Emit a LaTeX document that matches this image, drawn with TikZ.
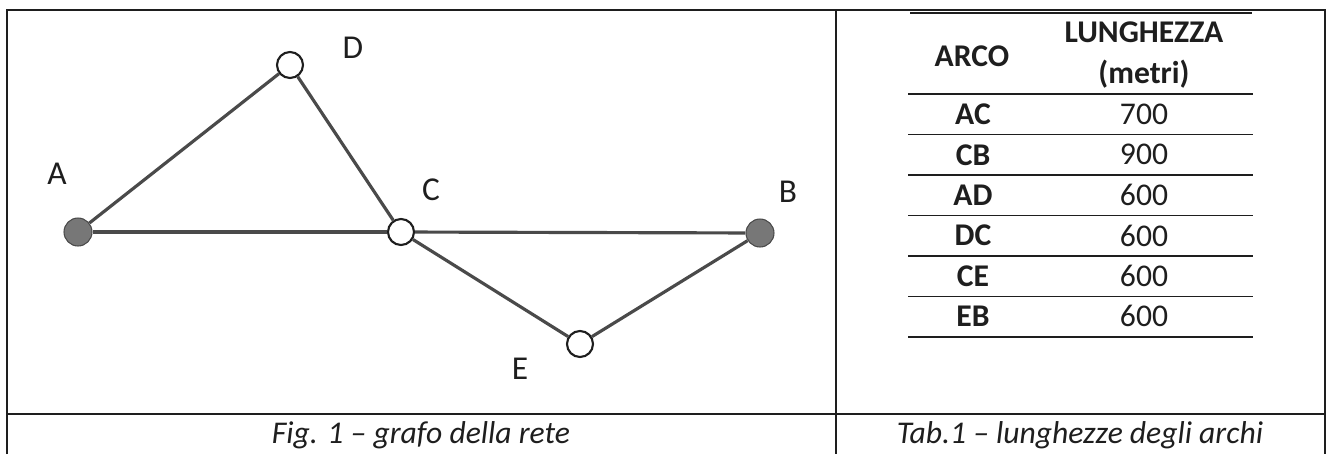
\documentclass[tikz,border=0pt]{standalone}
\usepackage{fontspec}
\setmainfont{Carlito}
\usetikzlibrary{positioning}
\definecolor{NetInk}{HTML}{1E1E1E}
\definecolor{NetEdge}{HTML}{4A4A4A}
\definecolor{NetFill}{HTML}{777777}

\begin{document}
\begin{tikzpicture}[x=0.02cm,y=-0.02cm,
          endpt/.style={draw=NetEdge,fill=NetFill,circle,
            minimum size=0.56cm,inner sep=0pt,line width=0.6pt},
          midpt/.style={draw=NetInk,fill=white,circle,
            minimum size=0.52cm,inner sep=0pt,line width=1.2pt},
          arcline/.style={draw=NetEdge,line width=1.8pt},
          lbl/.style={font=\fontsize{19}{22}\selectfont,text=NetInk},
          cell/.style={font=\fontsize{18}{21}\selectfont,text=NetInk},
          rule/.style={draw=NetInk,line width=0.9pt}
        ]
        \useasboundingbox (0,0) rectangle (1326,454);
        % frame
        \draw[NetInk,line width=1.1pt] (7,454) -- (7,10) -- (1325,10) -- (1325,454);
        \draw[NetInk,line width=1.1pt] (7,414) -- (1325,414);
        \draw[NetInk,line width=1.1pt] (836,10) -- (836,454);
        % graph
        \node[endpt] (A) at (78,232) {};
        \node[midpt] (D) at (290,65) {};
        \node[midpt] (C) at (401,232) {};
        \node[endpt] (B) at (760,233) {};
        \node[midpt] (E) at (580,344) {};
        \draw[arcline] (A) -- (D);
        \draw[arcline] (D) -- (C);
        \draw[arcline] (A) -- (C);
        \draw[arcline] (C) -- (B);
        \draw[arcline] (C) -- (E);
        \draw[arcline] (E) -- (B);
        \node[lbl] (lA) at (57,174) {A};
        \node[lbl] (lD) at (353,48) {D};
        \node[lbl] (lC) at (431,190) {C};
        \node[lbl] (lB) at (788,192) {B};
        \node[lbl] (lE) at (520,369) {E};
        % table
        \node[cell,font=\fontsize{18}{22}\selectfont\bfseries] (hdr-arc) at (972,56) {ARCO};
        \node[cell,font=\fontsize{18}{23}\selectfont\bfseries,align=center] (hdr-len) at (1144,55)
          {LUNGHEZZA\\(metri)};
        \draw[rule] (910,13) -- (1252,13);
        \draw[rule] (908,94) -- (1253,94);
        \foreach \arc/\len [count=\i] in {AC/700,CB/900,AD/600,DC/600,CE/600,EB/600} {
          \node[cell,font=\fontsize{18}{21}\selectfont\bfseries] (arc-\i) at (973,{74+40.4*\i}) {\arc};
          \node[cell] (len-\i) at (1144,{74+40.4*\i}) {\len};
          \draw[rule] (908,{94+40.5*\i}) -- (1253,{94+40.5*\i});
        }
        % captions
        \node[lbl,font=\fontsize{18}{21}\selectfont\itshape] (figcap) at (421,435)
          {Fig. 1 -- grafo della rete};
        \node[lbl,font=\fontsize{18}{21}\selectfont\itshape] (tabcap) at (1080,435)
          {Tab.1 -- lunghezze degli archi};
      \end{tikzpicture}
\end{document}
